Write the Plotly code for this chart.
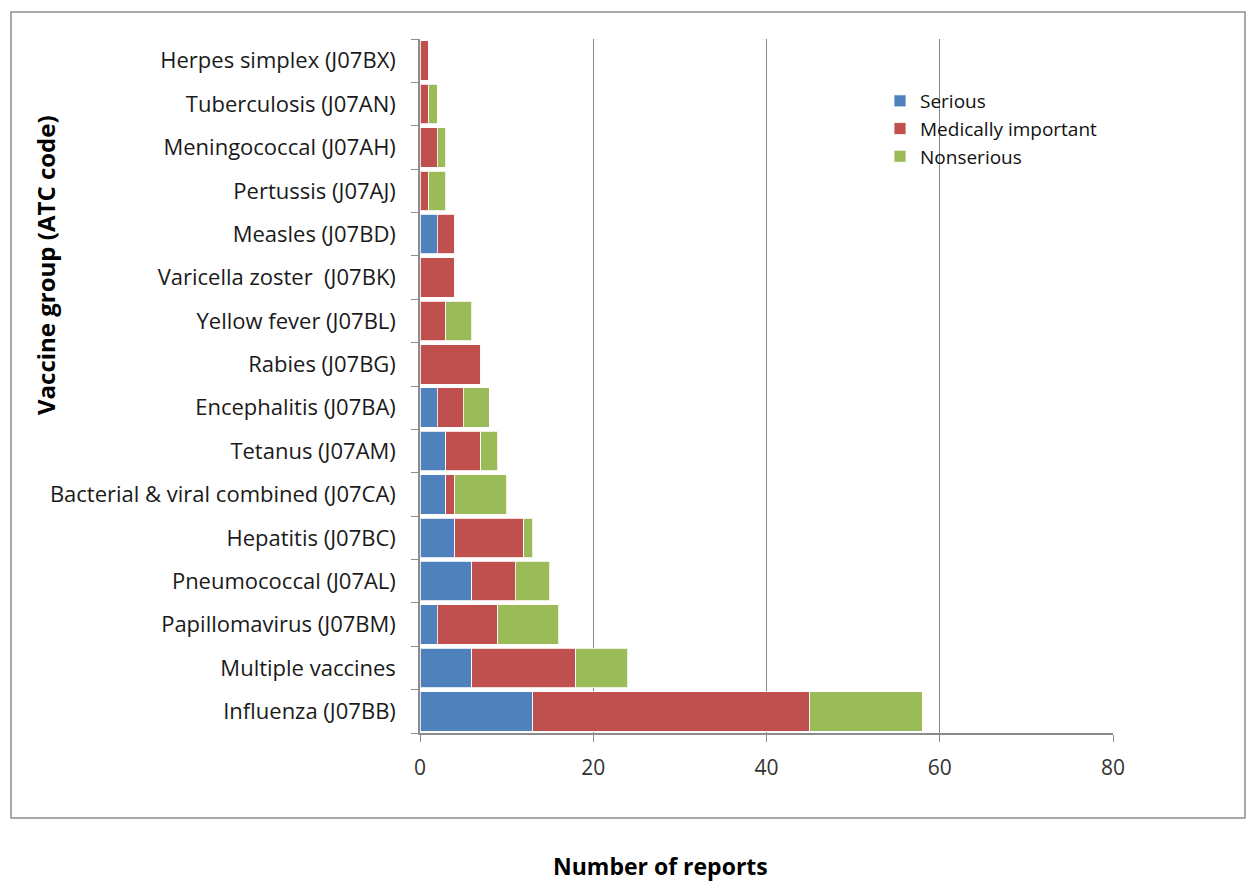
import plotly.graph_objects as go

# Vaccine groups, listed bottom to top
groups = [
    "Influenza (J07BB)",
    "Multiple vaccines",
    "Papillomavirus (J07BM)",
    "Pneumococcal (J07AL)",
    "Hepatitis (J07BC)",
    "Bacterial & viral combined (J07CA)",
    "Tetanus (J07AM)",
    "Encephalitis (J07BA)",
    "Rabies (J07BG)",
    "Yellow fever (J07BL)",
    "Varicella zoster  (J07BK)",
    "Measles (J07BD)",
    "Pertussis (J07AJ)",
    "Meningococcal (J07AH)",
    "Tuberculosis (J07AN)",
    "Herpes simplex (J07BX)",
]
serious = [13, 6, 2, 6, 4, 3, 3, 2, 0, 0, 0, 2, 0, 0, 0, 0]
medically_important = [32, 12, 7, 5, 8, 1, 4, 3, 7, 3, 4, 2, 1, 2, 1, 1]
nonserious = [13, 6, 7, 4, 1, 6, 2, 3, 0, 3, 0, 0, 2, 1, 1, 0]
x_ticks = [0, 20, 40, 60, 80]

FONT = "Open Sans, Calibri, sans-serif"
series = [
    ("Serious", serious, "#4F81BD"),
    ("Medically important", medically_important, "#C0504D"),
    ("Nonserious", nonserious, "#9BBB59"),
]

fig = go.Figure()
for name, vals, color in series:
    fig.add_trace(go.Bar(
        y=groups, x=vals, name=name, orientation="h",
        marker=dict(color=color, line=dict(color="rgba(255,255,255,0.8)", width=1)),
    ))

W, H = 1252, 884
L, R, T, B = 420, 1113, 39, 733
pw, ph = R - L, B - T

def px_x(x):
    return (x - L) / pw

def px_y(y):
    return (B - y) / ph

fig.update_layout(
    width=W, height=H,
    barmode="stack", bargap=0.09,
    plot_bgcolor="white", paper_bgcolor="white",
    margin=dict(l=L, r=W - R, t=T, b=H - B, pad=0),
    font=dict(family=FONT, color="#1a1a1a"),
    showlegend=True,
    legend=dict(
        x=px_x(880), y=px_y(82), xanchor="left", yanchor="top",
        font=dict(size=19, family=FONT, color="#111"),
        traceorder="normal", itemwidth=30, tracegroupgap=2,
        bgcolor="rgba(0,0,0,0)",
    ),
    xaxis=dict(
        range=[0, 80], tickvals=x_ticks, showgrid=True,
        gridcolor="#868686", gridwidth=1,
        showline=True, linecolor="#8c8c8c", linewidth=1.5,
        ticks="outside", ticklen=7, tickcolor="#8c8c8c",
        tickfont=dict(size=21, color="#333"), zeroline=False,
        ticklabelstandoff=8,
    ),
    yaxis=dict(
        showline=True, linecolor="#8c8c8c", linewidth=1.5,
        ticks="outside", ticklen=7, tickcolor="#8c8c8c",
        tickson="boundaries", showgrid=False,
        tickfont=dict(size=22, color="#1a1a1a"),
        ticklabelstandoff=18,
    ),
    shapes=[dict(
        type="rect", xref="paper", yref="paper",
        x0=px_x(11), x1=px_x(1245), y0=px_y(818), y1=px_y(12),
        line=dict(color="#8c8c8c", width=1.5), fillcolor="rgba(0,0,0,0)",
        layer="below",
    )],
    annotations=[
        dict(text="<b>Number of reports</b>", xref="paper", yref="paper",
             x=px_x(660), y=px_y(866), xanchor="center", yanchor="middle",
             showarrow=False, font=dict(size=23, family=FONT, color="#000")),
        dict(text="<b>Vaccine group (ATC code)</b>", xref="paper", yref="paper",
             x=px_x(45), y=px_y(265), xanchor="center", yanchor="middle",
             showarrow=False, textangle=-90,
             font=dict(size=24, family=FONT, color="#000")),
    ],
)

fig.write_html("out.html")
